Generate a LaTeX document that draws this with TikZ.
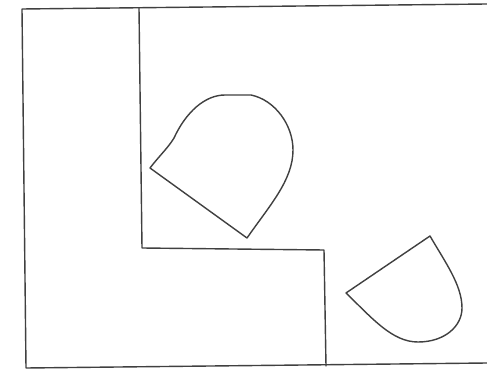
\documentclass[tikz,border=0pt]{standalone}
\begin{document}
\begin{tikzpicture}[x=1pt,y=-1pt,
  sketch/.style={draw=black!75,line width=1.4pt,line join=round,line cap=round}]
\useasboundingbox (0,0) rectangle (487,371);
\fill[white] (0,0) rectangle (487,371);
% outer frame
\draw[sketch] (487,4) -- (22,9) -- (26,368) -- (487,363);
% L-shaped inner line
\draw[sketch] (139,8) -- (142,248) -- (324,250) -- (326,366);
% upper bell shape
\draw[sketch] (150,168) .. controls (160,155) and (168,148) .. (174,138)
  .. controls (186,112) and (205,95) .. (225,95)
  -- (251,95)
  .. controls (275,100) and (293,125) .. (293,150)
  .. controls (293,180) and (270,205) .. (247,238)
  -- cycle;
% lower bell shape
\draw[sketch] (346,293) .. controls (372,318) and (392,342) .. (418,342)
  .. controls (445,342) and (462,326) .. (462,308)
  .. controls (462,285) and (445,262) .. (430,236)
  -- cycle;
\end{tikzpicture}
\end{document}
